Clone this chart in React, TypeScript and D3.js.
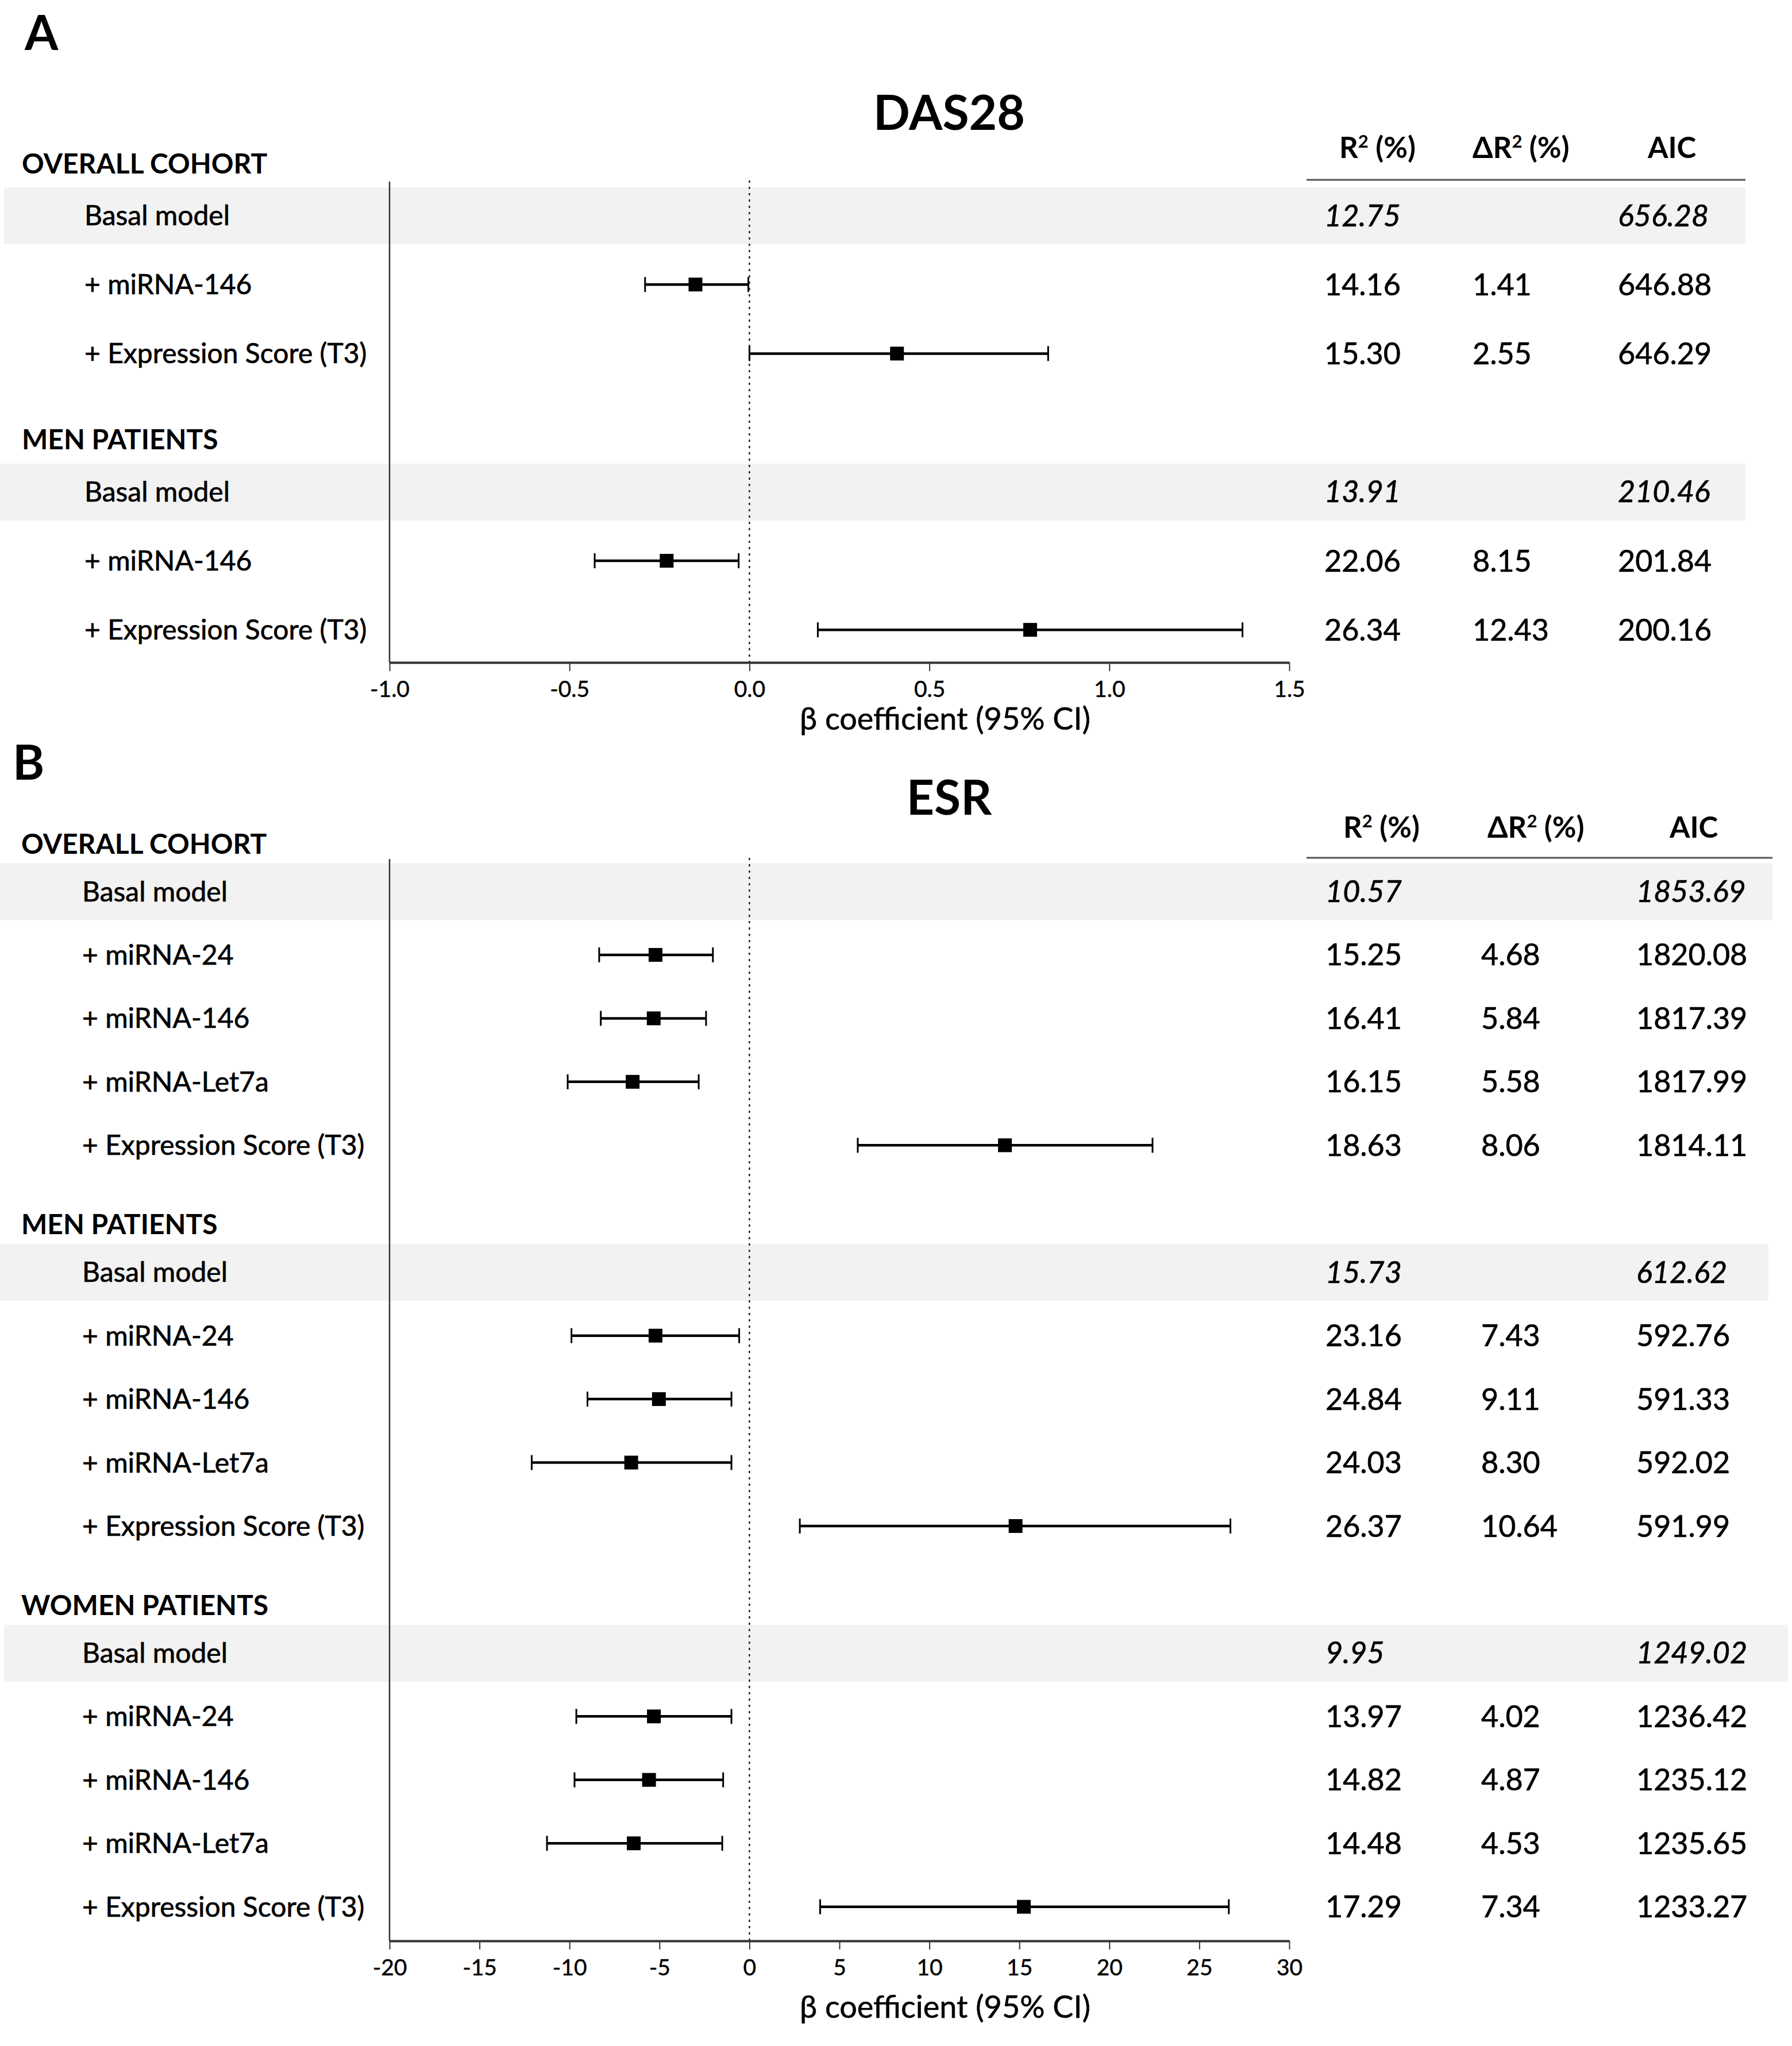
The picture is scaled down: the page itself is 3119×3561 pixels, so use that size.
import React, { useEffect, useRef } from 'react';
import * as d3 from 'd3';

const W = 3119;
const H = 3561;
const FONT = "Lato, 'Open Sans', sans-serif";

// ---- Panel A: DAS28 ----
const dasGroups = ['OVERALL COHORT', 'MEN PATIENTS'];
const dasTerms = ['Basal model', '+ miRNA-146', '+ Expression Score (T3)'];
const dasBeta = [[null, -0.15, 0.41], [null, -0.23, 0.78]];
const dasLower = [[null, -0.29, 0.0], [null, -0.43, 0.19]];
const dasUpper = [[null, -0.003, 0.83], [null, -0.03, 1.37]];
const dasR2 = [[12.75, 14.16, 15.30], [13.91, 22.06, 26.34]];
const dasDeltaR2 = [[null, 1.41, 2.55], [null, 8.15, 12.43]];
const dasAIC = [[656.28, 646.88, 646.29], [210.46, 201.84, 200.16]];
const dasTicks = [-1.0, -0.5, 0.0, 0.5, 1.0, 1.5];

// ---- Panel B: ESR ----
const esrGroups = ['OVERALL COHORT', 'MEN PATIENTS', 'WOMEN PATIENTS'];
const esrTerms = ['Basal model', '+ miRNA-24', '+ miRNA-146', '+ miRNA-Let7a', '+ Expression Score (T3)'];
const esrBeta = [
  [null, -5.22, -5.32, -6.49, 14.2],
  [null, -5.22, -5.03, -6.57, 14.79],
  [null, -5.31, -5.58, -6.43, 15.25],
];
const esrLower = [
  [null, -8.35, -8.26, -10.1, 6.02],
  [null, -9.89, -9.0, -12.1, 2.8],
  [null, -9.62, -9.72, -11.25, 3.93],
];
const esrUpper = [
  [null, -2.03, -2.41, -2.82, 22.4],
  [null, -0.57, -1.0, -1.0, 26.73],
  [null, -1.0, -1.46, -1.51, 26.64],
];
const esrR2 = [
  [10.57, 15.25, 16.41, 16.15, 18.63],
  [15.73, 23.16, 24.84, 24.03, 26.37],
  [9.95, 13.97, 14.82, 14.48, 17.29],
];
const esrDeltaR2 = [
  [null, 4.68, 5.84, 5.58, 8.06],
  [null, 7.43, 9.11, 8.30, 10.64],
  [null, 4.02, 4.87, 4.53, 7.34],
];
const esrAIC = [
  [1853.69, 1820.08, 1817.39, 1817.99, 1814.11],
  [612.62, 592.76, 591.33, 592.02, 591.99],
  [1249.02, 1236.42, 1235.12, 1235.65, 1233.27],
];
const esrTicks = [-20, -15, -10, -5, 0, 5, 10, 15, 20, 25, 30];

const panels = [
  {
    letter: 'A', letterX: 43, letterY: 87,
    title: 'DAS28', titleY: 226,
    groups: dasGroups, terms: dasTerms,
    beta: dasBeta, lower: dasLower, upper: dasUpper,
    r2: dasR2, dr2: dasDeltaR2, aic: dasAIC,
    ticks: dasTicks, fmt: d => d.toFixed(1),
    headY: 275, headX: [2331, 2563, 2868], colX: [2305, 2563, 2816],
    ruleY: 313, ruleX: [2274, 3038],
    bandX: [[7, 3038], [0, 3038]],
    row0: 375, step: 120.2, perGroup: 4,
    top: 316, axisY: 1153, axisTitleY: 1270,
    labelX: 147, headerX: 38,
  },
  {
    letter: 'B', letterX: 22, letterY: 1357,
    title: 'ESR', titleY: 1418,
    groups: esrGroups, terms: esrTerms,
    beta: esrBeta, lower: esrLower, upper: esrUpper,
    r2: esrR2, dr2: esrDeltaR2, aic: esrAIC,
    ticks: esrTicks, fmt: d => String(d),
    headY: 1458, headX: [2338, 2589, 2906], colX: [2307, 2578, 2848],
    ruleY: 1493, ruleX: [2274, 3085],
    bandX: [[0, 3085], [0, 3078], [7, 3112]],
    row0: 1551.5, step: 110.45, perGroup: 6,
    top: 1495, axisY: 3378, axisTitleY: 3512,
    labelX: 143, headerX: 37,
  },
];

function drawPanel(svg, p) {
  const g = svg.append('g');
  const x = d3.scaleLinear()
    .domain([p.ticks[0], p.ticks[p.ticks.length - 1]])
    .range([678, 2244]);
  const rowY = (gi, i) => p.row0 + (gi * p.perGroup + i) * p.step;

  // grey bands behind the basal model rows
  p.groups.forEach((grp, gi) => {
    g.append('rect')
      .attr('x', p.bandX[gi][0])
      .attr('y', rowY(gi, 0) - 49)
      .attr('width', p.bandX[gi][1] - p.bandX[gi][0])
      .attr('height', 99)
      .attr('fill', '#f2f2f2');
  });

  // panel letter + title
  g.append('text')
    .attr('x', p.letterX).attr('y', p.letterY)
    .attr('font-size', 84).attr('font-weight', 700)
    .text(p.letter);
  g.append('text')
    .attr('x', 1652).attr('y', p.titleY)
    .attr('text-anchor', 'middle')
    .attr('font-size', 84).attr('font-weight', 700)
    .text(p.title);

  // column headers
  const heads = [['R', ' (%)'], ['ΔR', ' (%)'], ['AIC', null]];
  heads.forEach((h, k) => {
    const t = g.append('text')
      .attr('x', p.headX[k]).attr('y', p.headY)
      .attr('font-size', 51).attr('font-weight', 700);
    t.append('tspan').text(h[0]);
    if (h[1]) {
      t.append('tspan').attr('dy', -18).attr('font-size', 31).text('2');
      t.append('tspan').attr('dy', 18).text(h[1]);
    }
  });
  g.append('line')
    .attr('x1', p.ruleX[0]).attr('x2', p.ruleX[1])
    .attr('y1', p.ruleY).attr('y2', p.ruleY)
    .attr('stroke', '#555').attr('stroke-width', 3);

  // zero reference line
  g.append('line')
    .attr('x1', x(0)).attr('x2', x(0))
    .attr('y1', p.top - 2).attr('y2', p.axisY)
    .attr('stroke', '#222').attr('stroke-width', 2.5)
    .attr('stroke-dasharray', '4 7');

  // left spine
  g.append('line')
    .attr('x1', x.range()[0]).attr('x2', x.range()[0])
    .attr('y1', p.top).attr('y2', p.axisY)
    .attr('stroke', '#333').attr('stroke-width', 2.5);

  p.groups.forEach((grp, gi) => {
    g.append('text')
      .attr('x', p.headerX).attr('y', rowY(gi, 0) - 0.76 * p.step + 18)
      .attr('font-size', 48).attr('font-weight', 700)
      .text(grp);

    p.terms.forEach((term, i) => {
      const cy = rowY(gi, i);
      g.append('text')
        .attr('x', p.labelX).attr('y', cy + 17)
        .attr('font-size', 48)
        .attr('stroke', '#000').attr('stroke-width', 0.7)
        .text(term);

      const cols = [p.r2[gi][i], p.dr2[gi][i], p.aic[gi][i]];
      cols.forEach((v, k) => {
        if (v == null) return;
        g.append('text')
          .attr('x', p.colX[k]).attr('y', cy + 18.5)
          .attr('font-size', 52)
          .attr('stroke', '#000').attr('stroke-width', 0.7)
          .attr('font-style', i === 0 ? 'italic' : 'normal')
          .text(v.toFixed(2));
      });

      const b = p.beta[gi][i];
      if (b == null) return;
      const lo = p.lower[gi][i];
      const hi = p.upper[gi][i];
      g.append('line')
        .attr('x1', x(lo)).attr('x2', x(hi))
        .attr('y1', cy).attr('y2', cy)
        .attr('stroke', '#000').attr('stroke-width', 4.5);
      [lo, hi].forEach(v => {
        g.append('line')
          .attr('x1', x(v)).attr('x2', x(v))
          .attr('y1', cy - 13).attr('y2', cy + 13)
          .attr('stroke', '#000').attr('stroke-width', 3);
      });
      g.append('rect')
        .attr('x', x(b) - 12).attr('y', cy - 12)
        .attr('width', 24).attr('height', 24)
        .attr('fill', '#000');
    });
  });

  // x axis
  g.append('g')
    .attr('transform', `translate(0,${p.axisY})`)
    .call(d3.axisBottom(x).tickValues(p.ticks).tickFormat(p.fmt)
      .tickSize(15).tickSizeOuter(0).tickPadding(17))
    .call(a => a.select('.domain').attr('stroke', '#333').attr('stroke-width', 4))
    .call(a => a.selectAll('.tick line').attr('stroke', '#333').attr('stroke-width', 2))
    .call(a => a.selectAll('.tick text')
      .attr('font-size', 39).attr('font-family', FONT).attr('fill', '#000')
      .attr('stroke', '#000').attr('stroke-width', 0.5));

  g.append('text')
    .attr('x', 1645).attr('y', p.axisTitleY)
    .attr('text-anchor', 'middle')
    .attr('font-size', 54)
    .attr('stroke', '#000').attr('stroke-width', 0.6)
    .text('β coefficient (95% CI)');
}

const App = () => {
  const svgRef = useRef(null);

  useEffect(() => {
    const svg = d3.select(svgRef.current);
    svg.selectAll('*').remove();
    svg.append('rect').attr('width', W).attr('height', H).attr('fill', '#fff');
    panels.forEach(p => drawPanel(svg, p));
  }, []);

  return (
    <svg
      ref={svgRef}
      width={W}
      height={H}
      fontFamily={FONT}
      fill="#000"
      style={{ position: 'absolute', left: 0, top: 0, display: 'block' }}
    />
  );
};

export default App;
